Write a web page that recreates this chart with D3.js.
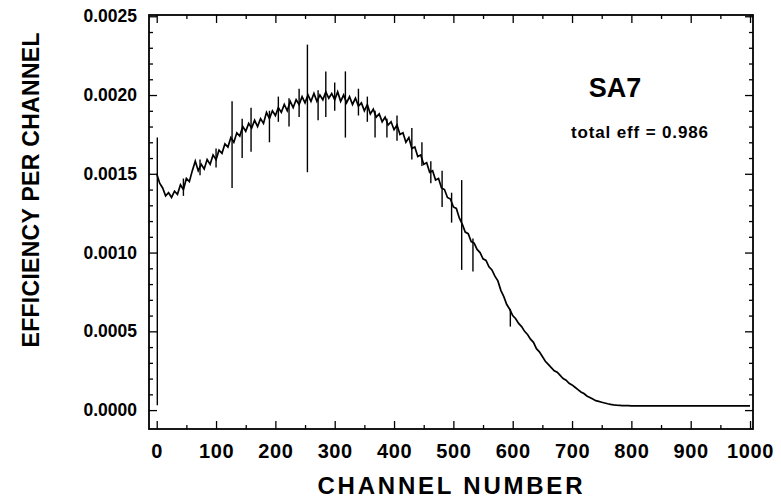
<!DOCTYPE html>
<html>
<head>
<meta charset="utf-8">
<script src="https://cdn.jsdelivr.net/npm/d3@7"></script>
<style>
	body { margin: 0; background: #fff; }
	svg text { font-family: "Liberation Sans", Arial, sans-serif; font-weight: bold; fill: #000; }
	.axis line { stroke: #000; stroke-width: 1.3; }
	.axis path { display: none; }
</style>
</head>
<body>
<div class="canvas"></div>
<script>

	// efficiency per channel, one reading every 5 channels (0 ... 1000)
	var eff = [
		0.00150, 0.00144, 0.00141, 0.00136, 0.00138, 0.00135, 0.00139, 0.00137, 0.00143, 0.00140,
		0.00147, 0.00145, 0.00152, 0.00158, 0.00152, 0.00156, 0.00153, 0.00159, 0.00156, 0.00162,
		0.00159, 0.00165, 0.00163, 0.00169, 0.00167, 0.00173, 0.00170, 0.00176, 0.00174, 0.00180,
		0.00177, 0.00182, 0.00179, 0.00184, 0.00180, 0.00185, 0.00182, 0.00189, 0.00185, 0.00190,
		0.00187, 0.00192, 0.00189, 0.00194, 0.00190, 0.00196, 0.00192, 0.00197, 0.00194, 0.00199,
		0.00195, 0.00200, 0.00196, 0.00201, 0.00196, 0.00200, 0.00197, 0.00202, 0.00198, 0.00201,
		0.00197, 0.00202, 0.00196, 0.00200, 0.00195, 0.00199, 0.00194, 0.00198, 0.00193, 0.00195,
		0.00190, 0.00194, 0.00188, 0.00191, 0.00186, 0.00188, 0.00183, 0.00186, 0.00181, 0.00183,
		0.00178, 0.00181, 0.00175, 0.00176, 0.00170, 0.00173, 0.00166, 0.00167, 0.00161, 0.00162,
		0.00156, 0.00157, 0.00151, 0.00152, 0.00146, 0.00147, 0.00141, 0.00140, 0.00135, 0.00134,
		0.00129, 0.00128, 0.00122, 0.00118, 0.00113, 0.00112, 0.00107, 0.00106, 0.00102, 0.00100,
		0.00096, 0.00095, 0.00091, 0.00089, 0.00085, 0.00082, 0.00076, 0.00072, 0.00067, 0.00064,
		0.00060, 0.00058, 0.00055, 0.00053, 0.00050, 0.00048, 0.00045, 0.00043, 0.00039, 0.00037,
		0.00034, 0.00031, 0.00029, 0.00027, 0.00025, 0.00024, 0.00022, 0.00020, 0.00019, 0.00017,
		0.000160, 0.000145, 0.000130, 0.000115, 0.000105, 0.000090, 0.000080, 0.000070, 0.000060, 0.000055,
		0.000050, 0.000045, 0.000040, 0.000036, 0.000033, 0.000031, 0.000030, 0.000029, 0.000028, 0.000028,
		0.000027, 0.000027, 0.000027, 0.000027, 0.000027, 0.000027, 0.000027, 0.000027, 0.000027, 0.000027,
		0.000027, 0.000027, 0.000027, 0.000027, 0.000027, 0.000027, 0.000027, 0.000027, 0.000027, 0.000027,
		0.000027, 0.000027, 0.000027, 0.000027, 0.000027, 0.000027, 0.000027, 0.000027, 0.000027, 0.000027,
		0.000027, 0.000027, 0.000027, 0.000027, 0.000027, 0.000027, 0.000027, 0.000027, 0.000027, 0.000027,
		0.000027
	];
	var channels = eff.map(function(d, i){ return i * 5; });

	// single noisy channels: [channel, low, high]
	var spikes = [
		[1, 0.00003, 0.00173],
		[45, 0.00136, 0.00147],
		[73, 0.00149, 0.00159],
		[100, 0.00154, 0.00166],
		[127, 0.00141, 0.00196],
		[144, 0.00160, 0.00185],
		[159, 0.00164, 0.00192],
		[190, 0.00170, 0.00190],
		[205, 0.00183, 0.00199],
		[223, 0.00180, 0.00198],
		[240, 0.00186, 0.00204],
		[254, 0.00151, 0.00232],
		[272, 0.00184, 0.00203],
		[285, 0.00186, 0.00215],
		[300, 0.00190, 0.00208],
		[318, 0.00173, 0.00215],
		[340, 0.00187, 0.00204],
		[355, 0.00183, 0.00199],
		[368, 0.00173, 0.00190],
		[388, 0.00173, 0.00185],
		[405, 0.00171, 0.00187],
		[430, 0.00159, 0.00179],
		[447, 0.00155, 0.00170],
		[462, 0.00144, 0.00158],
		[481, 0.00129, 0.00152],
		[497, 0.00119, 0.00138],
		[514, 0.00089, 0.00146],
		[533, 0.00088, 0.00109],
		[596, 0.00053, 0.00064]
	];

	var xMajor = d3.range(0, 1001, 100);
	var xMinor = d3.range(50, 1000, 100);
	var yMajor = [0, 0.0005, 0.0010, 0.0015, 0.0020, 0.0025];
	var yMinor = d3.range(0.0001, 0.0025, 0.0001).filter(function(d){ return Math.round(d * 10000) % 5 != 0; });

	var frameL = 149, frameR = 753, frameT = 15, frameB = 429;

	var svg = d3.select(".canvas")
				.append("svg")
				.attr("width", 781)
				.attr("height", 499);

	var x = d3.scaleLinear().domain([-13, 1005]).range([frameL, frameR]);
	var y = d3.scaleLinear().domain([-0.00012, 0.002508]).range([frameB, frameT]);

	// AXES (ticks point into the frame on all four sides)
	svg.append("g")
		.attr("class", "axis")
		.attr("transform", "translate(0," + frameB + ")")
		.call(d3.axisBottom(x).tickValues(xMajor).tickSize(-8).tickPadding(15).tickFormat(d3.format("d")))
		.selectAll("text")
		.style("font-size", "20px")
		.style("letter-spacing", "0.6px");

	svg.append("g")
		.attr("class", "axis")
		.attr("transform", "translate(0," + frameB + ")")
		.call(d3.axisBottom(x).tickValues(xMinor).tickSize(-4).tickFormat(""));

	svg.append("g")
		.attr("class", "axis")
		.attr("transform", "translate(0," + frameT + ")")
		.call(d3.axisTop(x).tickValues(xMajor).tickSize(-8).tickFormat(""));

	svg.append("g")
		.attr("class", "axis")
		.attr("transform", "translate(0," + frameT + ")")
		.call(d3.axisTop(x).tickValues(xMinor).tickSize(-4).tickFormat(""));

	svg.append("g")
		.attr("class", "axis")
		.attr("transform", "translate(" + frameL + ",0)")
		.call(d3.axisLeft(y).tickValues(yMajor).tickSize(-8).tickPadding(12).tickFormat(d3.format(".4f")))
		.selectAll("text")
		.style("font-size", "17.5px");

	svg.append("g")
		.attr("class", "axis")
		.attr("transform", "translate(" + frameL + ",0)")
		.call(d3.axisLeft(y).tickValues(yMinor).tickSize(-4).tickFormat(""));

	svg.append("g")
		.attr("class", "axis")
		.attr("transform", "translate(" + frameR + ",0)")
		.call(d3.axisRight(y).tickValues(yMajor).tickSize(-8).tickFormat(""));

	svg.append("g")
		.attr("class", "axis")
		.attr("transform", "translate(" + frameR + ",0)")
		.call(d3.axisRight(y).tickValues(yMinor).tickSize(-4).tickFormat(""));

	// FRAME
	svg.append("rect")
		.attr("x", frameL)
		.attr("y", frameT)
		.attr("width", frameR - frameL)
		.attr("height", frameB - frameT)
		.attr("fill", "none")
		.attr("stroke", "#000")
		.attr("stroke-width", 1.8);

	// SPECTRUM
	var line = d3.line()
				.x(function(d, i){ return x(channels[i]); })
				.y(function(d){ return y(d); });

	svg.append("path")
		.datum(eff)
		.attr("d", line)
		.attr("fill", "none")
		.attr("stroke", "#000")
		.attr("stroke-width", 1.7)
		.attr("stroke-linejoin", "miter");

	svg.selectAll(".spike")
		.data(spikes)
		.enter()
		.append("line")
		.attr("class", "spike")
		.attr("x1", function(d){ return x(d[0]); })
		.attr("x2", function(d){ return x(d[0]); })
		.attr("y1", function(d){ return y(d[1]); })
		.attr("y2", function(d){ return y(d[2]); })
		.attr("stroke", "#000")
		.attr("stroke-width", 1.4);

	// LABELS
	svg.append("text")
		.attr("x", 450)
		.attr("y", 494)
		.attr("text-anchor", "middle")
		.attr("textLength", 265)
		.attr("lengthAdjust", "spacing")
		.style("font-size", "24px")
		.text("CHANNEL NUMBER");

	svg.append("text")
		.attr("transform", "translate(39,190) rotate(-90)")
		.attr("text-anchor", "middle")
		.attr("textLength", 315)
		.attr("lengthAdjust", "spacing")
		.style("font-size", "23px")
		.text("EFFICIENCY PER CHANNEL");

	svg.append("text")
		.attr("x", 615)
		.attr("y", 97)
		.attr("text-anchor", "middle")
		.style("font-size", "27px")
		.text("SA7");

	svg.append("text")
		.attr("x", 571)
		.attr("y", 138)
		.attr("textLength", 137)
		.attr("lengthAdjust", "spacing")
		.style("font-size", "17px")
		.text("total eff = 0.986");

</script>
</body>
</html>
